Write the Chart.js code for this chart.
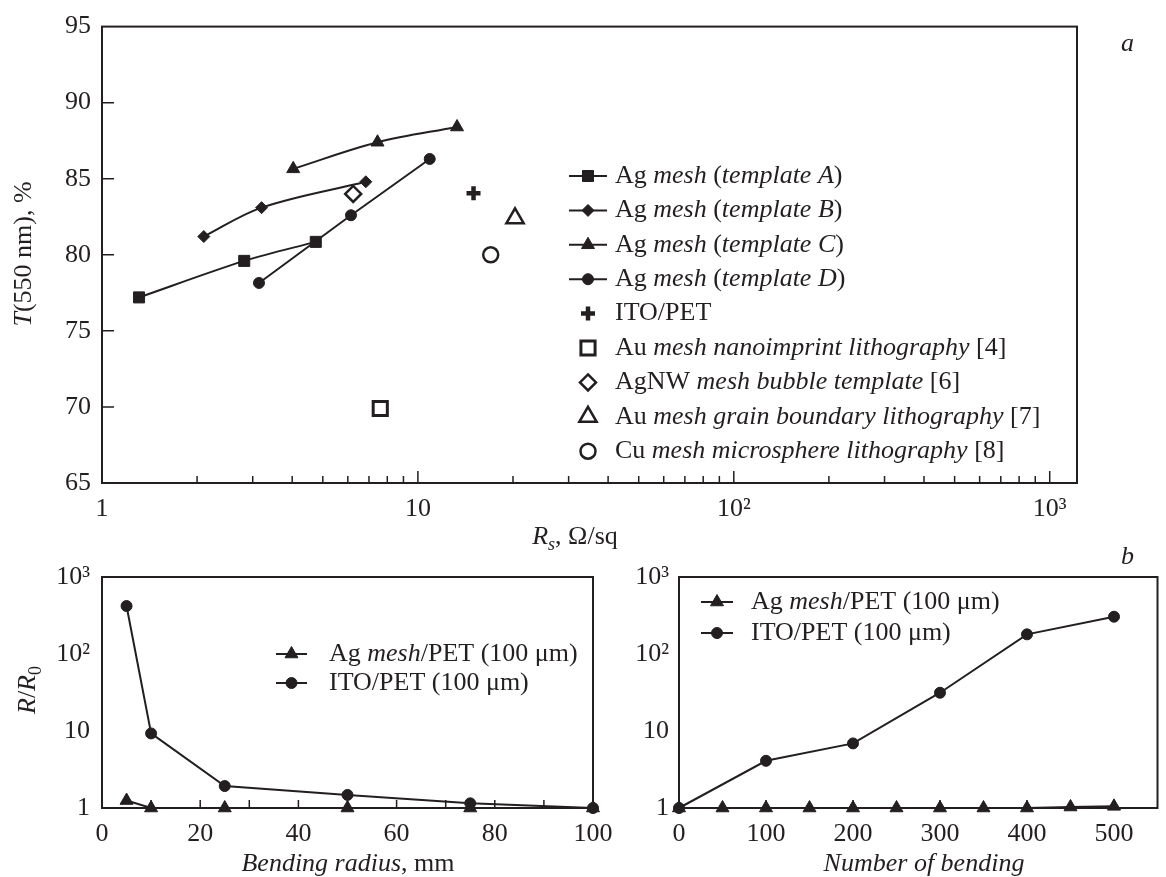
<!DOCTYPE html>
<html>
<head>
<meta charset="utf-8">
<script src="https://cdn.jsdelivr.net/npm/chart.js@4/dist/chart.umd.min.js"></script>
<style>
body { margin: 0; background: #fff; }
#wrap { position: relative; width: 1166px; height: 877px; }
#wrap canvas { position: absolute; left: 0; top: 0; }
</style>
</head>
<body>
<div id="wrap">
  <canvas id="chartA" width="1166" height="877"></canvas>
  <canvas id="chartB1" width="1166" height="877"></canvas>
  <canvas id="chartB2" width="1166" height="877"></canvas>
</div>
<script>
// panel a: sheet resistance vs transmittance
const rsA = [1.31, 2.82, 4.75],  tA = [77.2, 79.6, 80.85];
const rsB = [2.10, 3.20, 6.84],  tB = [81.2, 83.1, 84.8];
const rsC = [4.03, 7.45, 13.3],  tC = [85.65, 87.4, 88.4];
const rsD = [3.14, 6.14, 10.9],  tD = [78.15, 82.6, 86.3];
const rsITO = [15.0],    tITO = [84.05];
const rsAuNano = [7.6],  tAuNano = [69.9];
const rsAgNW = [6.24],   tAgNW = [84.0];
const rsAuGrain = [20.3], tAuGrain = [82.4];
const rsCu = [17.0],     tCu = [80.0];

// panel b, left: bending radius
const radius = [5, 10, 25, 50, 75, 100];
const radAgMesh = [1.25, 1.0, 1.0, 1.0, 1.0, 1.0];
const radITO = [420, 9.3, 1.93, 1.48, 1.15, 1.0];

// panel b, right: number of bendings
const bendAgN = [0, 50, 100, 150, 200, 250, 300, 350, 400, 450, 500];
const bendAgMesh = [1.0, 1.0, 1.0, 1.0, 1.0, 1.0, 1.0, 1.0, 1.0, 1.03, 1.05];
const bendITON = [0, 100, 200, 300, 400, 500];
const bendITO = [1.0, 4.1, 6.9, 31.4, 180, 305];

const logTicks = [1, 10, 100, 1000];
const logLabels = ['1', '10', '10²', '10³'];

const INK = '#231f20';
const FONT = '"Liberation Serif", "Times New Roman", serif';
const FS = 26;

function pts(xs, ys) { return xs.map((x, i) => ({ x: x, y: ys[i] })); }

function segFont(st, size) {
  const small = st.includes('sub') || st.includes('sup');
  return (st.includes('i') ? 'italic ' : '') + (small ? Math.round(size * 0.68) : size) + 'px ' + FONT;
}

function richText(ctx, segs, x, y, align, rot) {
  ctx.save();
  ctx.translate(x, y);
  if (rot) ctx.rotate(rot);
  let w = 0;
  segs.forEach(s => { ctx.font = segFont(s[1] || '', FS); w += ctx.measureText(s[0]).width; });
  let cx = align === 'center' ? -w / 2 : 0;
  ctx.textBaseline = 'middle';
  ctx.textAlign = 'left';
  ctx.fillStyle = INK;
  segs.forEach(s => {
    const st = s[1] || '';
    ctx.font = segFont(st, FS);
    const dy = st.includes('sub') ? FS * 0.3 : (st.includes('sup') ? -FS * 0.35 : 0);
    ctx.fillText(s[0], cx, dy);
    cx += ctx.measureText(s[0]).width;
  });
  ctx.restore();
}

function marker(ctx, ds, x, y) {
  const r = ds.pointRadius;
  ctx.save();
  ctx.lineWidth = ds.pointBorderWidth;
  ctx.strokeStyle = INK;
  ctx.fillStyle = ds.pointBackgroundColor;
  ctx.beginPath();
  const st = ds.pointStyle;
  if (st === 'circle') ctx.arc(x, y, r, 0, 2 * Math.PI);
  else if (st === 'rect') { const s = r * Math.SQRT1_2; ctx.rect(x - s, y - s, 2 * s, 2 * s); }
  else if (st === 'rectRot') { ctx.moveTo(x, y - r); ctx.lineTo(x + r, y); ctx.lineTo(x, y + r); ctx.lineTo(x - r, y); ctx.closePath(); }
  else if (st === 'triangle') {
    for (let k = 0; k < 3; k++) {
      const a = k * 2 * Math.PI / 3;
      if (k === 0) ctx.moveTo(x + Math.sin(a) * r, y - Math.cos(a) * r);
      else ctx.lineTo(x + Math.sin(a) * r, y - Math.cos(a) * r);
    }
    ctx.closePath();
  } else if (st === 'cross') {
    ctx.moveTo(x, y - r); ctx.lineTo(x, y + r); ctx.moveTo(x - r, y); ctx.lineTo(x + r, y);
  }
  if (st !== 'cross') ctx.fill();
  ctx.stroke();
  ctx.restore();
}

function drawLegend(chart, x0, x1, xText, y0, dy) {
  const ctx = chart.ctx;
  chart.data.datasets.forEach((ds, i) => {
    const y = y0 + i * dy;
    if (ds.showLine) {
      ctx.save();
      ctx.strokeStyle = INK; ctx.lineWidth = 2;
      ctx.beginPath(); ctx.moveTo(x0, y); ctx.lineTo(x1, y); ctx.stroke();
      ctx.restore();
    }
    marker(ctx, ds, (x0 + x1) / 2, y);
    richText(ctx, ds.legendText, xText, y, 'left');
  });
}

function frame(chart) {
  const a = chart.chartArea, ctx = chart.ctx;
  ctx.save();
  ctx.strokeStyle = INK; ctx.lineWidth = 2;
  ctx.strokeRect(a.left, a.top, a.right - a.left, a.bottom - a.top);
  ctx.restore();
}

function xTicks(chart, values, len) {
  const a = chart.chartArea, ctx = chart.ctx, sx = chart.scales.x;
  ctx.save();
  ctx.strokeStyle = INK; ctx.lineWidth = 1.5;
  ctx.beginPath();
  values.forEach(v => { const px = sx.getPixelForValue(v); ctx.moveTo(px, a.bottom); ctx.lineTo(px, a.bottom - len); });
  ctx.stroke();
  ctx.restore();
}

function yTicks(chart, values, len) {
  const a = chart.chartArea, ctx = chart.ctx, sy = chart.scales.y;
  ctx.save();
  ctx.strokeStyle = INK; ctx.lineWidth = 1.5;
  ctx.beginPath();
  values.forEach(v => { const py = sy.getPixelForValue(v); ctx.moveTo(a.left, py); ctx.lineTo(a.left + len, py); });
  ctx.stroke();
  ctx.restore();
}

function lineSet(label, data, style, r, legendText, tension) {
  return {
    label: label, data: data, showLine: true, tension: tension || 0,
    borderColor: INK, borderWidth: 2,
    pointStyle: style, pointRadius: r, pointBorderWidth: 1,
    pointBackgroundColor: INK, pointBorderColor: INK,
    clip: false, legendText: legendText
  };
}

function openSet(label, data, style, r, bw, legendText) {
  return {
    label: label, data: data, showLine: false,
    pointStyle: style, pointRadius: r, pointBorderWidth: bw,
    pointBackgroundColor: style === 'cross' ? INK : '#fff', pointBorderColor: INK,
    clip: false, legendText: legendText
  };
}

function tickFont() { return { family: FONT, size: FS }; }

function axis(type, min, max, padding, fit, ticks, labels) {
  return {
    type: type, min: min, max: max,
    grid: { display: false, drawTicks: false },
    border: { display: false },
    title: { display: false },
    ticks: {
      color: INK, font: tickFont(), padding: padding, maxRotation: 0, autoSkip: false,
      callback: function (v) { const k = ticks.indexOf(v); return k < 0 ? '' : labels[k]; }
    },
    afterBuildTicks: function (s) { s.ticks = ticks.map(v => ({ value: v })); },
    afterFit: fit
  };
}

function base(padding) {
  return {
    responsive: false, animation: false, devicePixelRatio: 1,
    layout: { padding: padding },
    plugins: { legend: { display: false }, tooltip: { enabled: false } },
    events: []
  };
}

// ---------- panel a ----------
const minorA = [];
[1, 10, 100].forEach(d => { for (let k = 2; k <= 9; k++) minorA.push(k * d); });

const optA = base({ left: 0, top: 21, right: 89, bottom: 354 });
optA.scales = {
  x: axis('logarithmic', 1, 1220, 11, s => { s.height = 40; }, logTicks, logLabels),
  y: axis('linear', 65, 95, 11, s => { s.width = 102; }, [65, 70, 75, 80, 85, 90, 95], ['65', '70', '75', '80', '85', '90', '95'])
};

new Chart(document.getElementById('chartA'), {
  type: 'scatter',
  data: {
    datasets: [
      lineSet('A', pts(rsA, tA), 'rect', 7.8, [['Ag '], ['mesh', 'i'], [' ('], ['template A', 'i'], [')']], 0.3),
      lineSet('B', pts(rsB, tB), 'rectRot', 6, [['Ag '], ['mesh', 'i'], [' ('], ['template B', 'i'], [')']], 0.35),
      lineSet('C', pts(rsC, tC), 'triangle', 7.5, [['Ag '], ['mesh', 'i'], [' ('], ['template C', 'i'], [')']], 0.35),
      lineSet('D', pts(rsD, tD), 'circle', 5.5, [['Ag '], ['mesh', 'i'], [' ('], ['template D', 'i'], [')']], 0),
      openSet('ITO', pts(rsITO, tITO), 'cross', 7, 4.5, [['ITO/PET']]),
      openSet('AuNano', pts(rsAuNano, tAuNano), 'rect', 10, 3, [['Au '], ['mesh nanoimprint lithography', 'i'], [' [4]']]),
      openSet('AgNW', pts(rsAgNW, tAgNW), 'rectRot', 8, 2.5, [['AgNW '], ['mesh bubble template', 'i'], [' [6]']]),
      openSet('AuGrain', pts(rsAuGrain, tAuGrain), 'triangle', 10, 2.5, [['Au '], ['mesh grain boundary lithography', 'i'], [' [7]']]),
      openSet('Cu', pts(rsCu, tCu), 'circle', 7.5, 2.5, [['Cu '], ['mesh microsphere lithography', 'i'], [' [8]']])
    ]
  },
  options: optA,
  plugins: [{
    id: 'decoA',
    beforeDatasetsDraw(chart) {
      frame(chart);
      yTicks(chart, [70, 75, 80, 85, 90], 12);
      xTicks(chart, [10, 100, 1000], 12);
      xTicks(chart, minorA, 7);
    },
    afterDraw(chart) {
      drawLegend(chart, 569, 607, 615, 176, 34.4);
      richText(chart.ctx, [['T', 'i'], ['(550 nm), %']], 24, 254, 'center', -Math.PI / 2);
      richText(chart.ctx, [['R', 'i'], ['s', 'isub'], [', Ω/sq']], 575, 537, 'center');
      richText(chart.ctx, [['a', 'i']], 1121, 44, 'left');
    }
  }]
});

// ---------- panel b, left ----------
const optB1 = base({ left: 0, top: 577, right: 573, bottom: 29 });
optB1.scales = {
  x: axis('linear', 0, 100, 11, s => { s.height = 40; }, [0, 20, 40, 60, 80, 100], ['0', '20', '40', '60', '80', '100']),
  y: axis('logarithmic', 1, 1000, 12, s => { s.width = 102; }, logTicks, logLabels)
};

new Chart(document.getElementById('chartB1'), {
  type: 'scatter',
  data: {
    datasets: [
      lineSet('Ag', pts(radius, radAgMesh), 'triangle', 7.5, [['Ag '], ['mesh', 'i'], ['/PET (100 μm)']], 0),
      lineSet('ITO', pts(radius, radITO), 'circle', 5.5, [['ITO/PET (100 μm)']], 0)
    ]
  },
  options: optB1,
  plugins: [{
    id: 'decoB1',
    beforeDatasetsDraw(chart) {
      frame(chart);
      xTicks(chart, [10, 20, 30, 40, 50, 60, 70, 80, 90], 8);
    },
    afterDraw(chart) {
      drawLegend(chart, 276, 307, 329, 654, 29);
      richText(chart.ctx, [['R', 'i'], ['/'], ['R', 'i'], ['0', 'sub']], 28, 690, 'center', -Math.PI / 2);
      richText(chart.ctx, [['Bending radius', 'i'], [', mm']], 348, 864, 'center');
    }
  }]
});

// ---------- panel b, right ----------
const optB2 = base({ left: 579, top: 577, right: 1, bottom: 29 });
optB2.scales = {
  x: axis('linear', 0, 550, 11, s => { s.height = 40; }, [0, 100, 200, 300, 400, 500], ['0', '100', '200', '300', '400', '500']),
  y: axis('logarithmic', 1, 1000, 10, s => { s.width = 100; }, logTicks, logLabels)
};

new Chart(document.getElementById('chartB2'), {
  type: 'scatter',
  data: {
    datasets: [
      lineSet('Ag', pts(bendAgN, bendAgMesh), 'triangle', 7.5, [['Ag '], ['mesh', 'i'], ['/PET (100 μm)']], 0),
      lineSet('ITO', pts(bendITON, bendITO), 'circle', 5.5, [['ITO/PET (100 μm)']], 0)
    ]
  },
  options: optB2,
  plugins: [{
    id: 'decoB2',
    beforeDatasetsDraw(chart) {
      frame(chart);
      xTicks(chart, [100, 200, 300, 400, 500], 8);
    },
    afterDraw(chart) {
      drawLegend(chart, 701, 733, 751, 602, 31);
      richText(chart.ctx, [['Number of bending', 'i']], 924, 864, 'center');
      richText(chart.ctx, [['b', 'i']], 1121, 557, 'left');
    }
  }]
});
</script>
</body>
</html>
